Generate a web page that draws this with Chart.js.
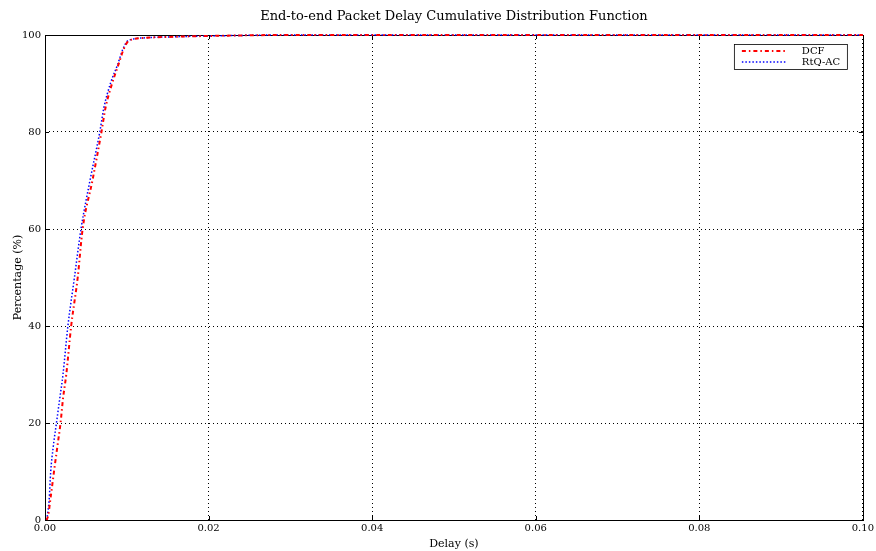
<!DOCTYPE html>
<html>
<head>
<meta charset="utf-8">
<script src="https://cdn.jsdelivr.net/npm/chart.js@4/dist/chart.umd.min.js"></script>
<style>
  html, body { margin: 0; padding: 0; background: #fff; }
  #wrap { width: 876px; height: 551px; }
</style>
</head>
<body>
<div id="wrap"><canvas id="chart"></canvas></div>
<script>
const chartTitle = "End-to-end Packet Delay Cumulative Distribution Function";
const xLabel = "Delay (s)";
const yLabel = "Percentage (%)";
const xTicks = [0, 0.02, 0.04, 0.06, 0.08, 0.10];
const yTicks = [0, 20, 40, 60, 80, 100];

// delay (s) vs cumulative percentage
const dcfDelay = [0.0002, 0.0004, 0.0006, 0.0011, 0.0015, 0.0019, 0.0022, 0.0026, 0.0032, 0.0040, 0.0046, 0.0058,
  0.0069, 0.0074, 0.0082, 0.0090, 0.0096, 0.0101, 0.0107, 0.0122, 0.0150, 0.0200, 0.0300, 0.1000];
const dcfPct = [0, 1, 3.5, 10, 15, 20, 25, 30, 40, 50, 60, 70,
  80, 85, 90, 94, 97, 98.6, 99.1, 99.4, 99.6, 99.8, 100, 100];

const rtqDelay = [0.0002, 0.0003, 0.0005, 0.0007, 0.0010, 0.0014, 0.0018, 0.0022, 0.0028, 0.0036, 0.0044, 0.0055,
  0.0067, 0.0072, 0.0080, 0.0089, 0.0095, 0.0100, 0.0106, 0.0120, 0.0150, 0.0200, 0.0300, 0.1000];
const rtqPct = [0, 1, 4, 10, 15, 20, 25, 30, 40, 50, 60, 70,
  80, 85, 90, 94, 97, 98.6, 99.1, 99.4, 99.6, 99.8, 100, 100];

const serif = "'DejaVu Serif', 'Liberation Serif', serif";

function toPoints(xs, ys) {
  return xs.map((x, i) => ({ x: x, y: ys[i] }));
}

// frame and inward ticks go under the curves, like matplotlib
const frame = {
  id: "frame",
  beforeDatasetsDraw(chart) {
    const { ctx, chartArea: a, scales } = chart;
    ctx.save();
    ctx.strokeStyle = "#000";
    ctx.lineWidth = 1;
    ctx.setLineDash([]);
    ctx.beginPath();
    for (const v of xTicks) {
      const px = Math.round(scales.x.getPixelForValue(v)) + 0.5;
      ctx.moveTo(px, a.bottom); ctx.lineTo(px, a.bottom - 4);
      ctx.moveTo(px, a.top); ctx.lineTo(px, a.top + 4);
    }
    for (const v of yTicks) {
      const py = Math.round(scales.y.getPixelForValue(v)) + 0.5;
      ctx.moveTo(a.left, py); ctx.lineTo(a.left + 4, py);
      ctx.moveTo(a.right, py); ctx.lineTo(a.right - 4, py);
    }
    ctx.stroke();
    ctx.strokeRect(Math.round(a.left) + 0.5, Math.round(a.top) + 0.5,
      Math.round(a.right - a.left), Math.round(a.bottom - a.top));
    ctx.restore();
  },
  afterDatasetsDraw(chart) {
    const { ctx, chartArea: a } = chart;
    ctx.save();
    // title, centred on the plot area
    ctx.fillStyle = "#000";
    ctx.font = "13px " + serif;
    ctx.textAlign = "center";
    ctx.textBaseline = "middle";
    ctx.fillText(chartTitle, (a.left + a.right) / 2, 17);

    // legend box
    const bx = a.right - 129, by = a.top + 9, bw = 113, bh = 25;
    ctx.fillStyle = "#fff";
    ctx.fillRect(bx, by, bw, bh);
    ctx.strokeStyle = "#000";
    ctx.lineWidth = 0.8;
    ctx.strokeRect(bx + 0.5, by + 0.5, bw, bh);
    chart.data.datasets.forEach((ds, i) => {
      const ly = by + 7 + i * 11;
      ctx.strokeStyle = ds.borderColor;
      ctx.lineWidth = ds.borderWidth;
      ctx.setLineDash(ds.borderDash);
      ctx.beginPath();
      ctx.moveTo(bx + 8, ly);
      ctx.lineTo(bx + 52, ly);
      ctx.stroke();
      ctx.setLineDash([]);
      ctx.fillStyle = "#000";
      ctx.font = "10px " + serif;
      ctx.textAlign = "left";
      ctx.fillText(ds.label, bx + 68, ly);
    });
    ctx.restore();
  }
};

new Chart(document.getElementById("chart"), {
  type: "scatter",
  data: {
    datasets: [
      {
        label: "DCF",
        data: toPoints(dcfDelay, dcfPct),
        showLine: true,
        borderColor: "#ff0000",
        backgroundColor: "#ff0000",
        borderWidth: 2,
        borderDash: [4, 3, 1.5, 3],
        pointRadius: 0,
        cubicInterpolationMode: "monotone",
        clip: 3
      },
      {
        label: "RtQ-AC",
        data: toPoints(rtqDelay, rtqPct),
        showLine: true,
        borderColor: "#0000ff",
        backgroundColor: "#0000ff",
        borderWidth: 1.5,
        borderDash: [1.5, 2],
        pointRadius: 0,
        cubicInterpolationMode: "monotone",
        clip: 3
      }
    ]
  },
  options: {
    responsive: true,
    maintainAspectRatio: false,
    animation: false,
    layout: { padding: { top: 35, right: 12, left: 0, bottom: 0 } },
    plugins: {
      legend: { display: false },
      tooltip: { enabled: false },
      title: { display: false }
    },
    scales: {
      x: {
        type: "linear",
        min: 0,
        max: 0.1,
        afterFit(scale) { scale.height = 31; },
        afterBuildTicks(scale) { scale.ticks = xTicks.map(v => ({ value: v })); },
        ticks: {
          color: "#000",
          font: { family: serif, size: 10 },
          padding: 2,
          callback: v => v.toFixed(2)
        },
        grid: {
          color: "#000",
          lineWidth: 1,
          drawTicks: false
        },
        border: { display: false, dash: [1, 3] },
        title: {
          display: true,
          text: xLabel,
          color: "#000",
          font: { family: serif, size: 11 },
          padding: { top: 2, bottom: 0 }
        }
      },
      y: {
        min: 0,
        max: 100,
        afterFit(scale) { scale.width = 45; },
        afterBuildTicks(scale) { scale.ticks = yTicks.map(v => ({ value: v })); },
        ticks: {
          color: "#000",
          font: { family: serif, size: 10 },
          padding: 4
        },
        grid: {
          color: "#000",
          lineWidth: 1,
          drawTicks: false
        },
        border: { display: false, dash: [1, 3] },
        title: {
          display: true,
          text: yLabel,
          color: "#000",
          font: { family: serif, size: 11 },
          padding: { top: 12, bottom: 0 }
        }
      }
    }
  },
  plugins: [frame]
});
</script>
</body>
</html>
